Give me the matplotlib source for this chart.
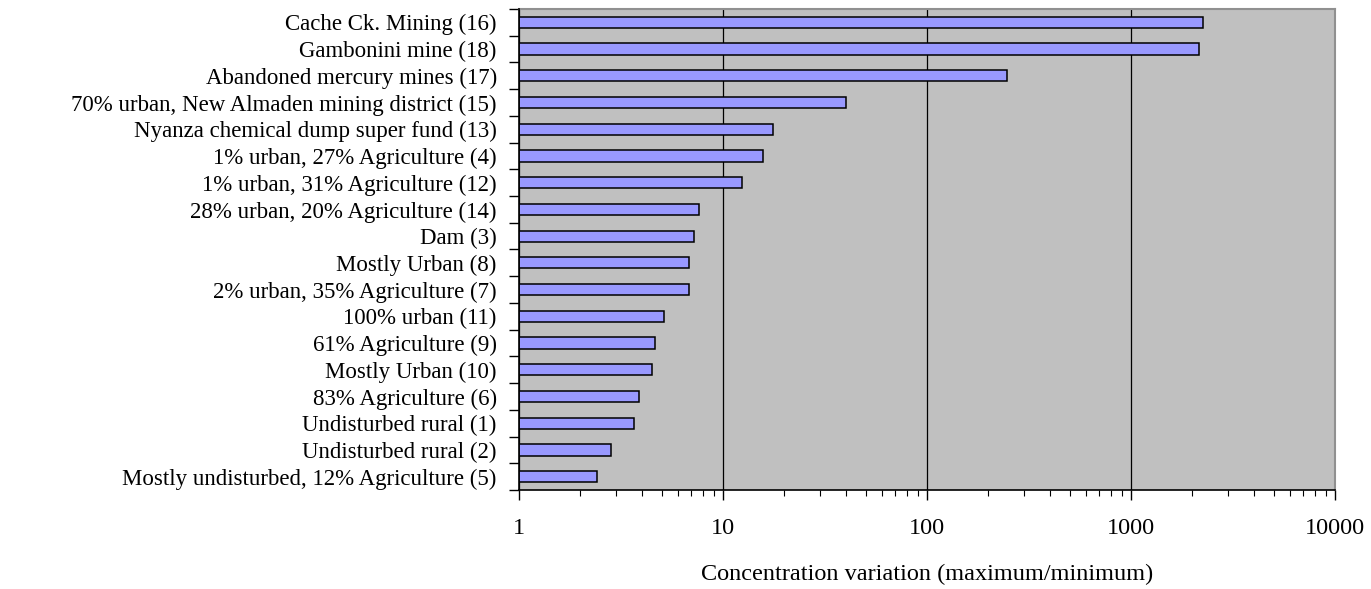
import matplotlib
matplotlib.use("Agg")
import matplotlib.pyplot as plt
from matplotlib.ticker import FixedLocator, LogLocator, NullFormatter
import numpy as np

categories = [
    "Cache Ck. Mining (16)",
    "Gambonini mine (18)",
    "Abandoned mercury mines (17)",
    "70% urban, New Almaden mining district (15)",
    "Nyanza chemical dump super fund (13)",
    "1% urban, 27% Agriculture (4)",
    "1% urban, 31% Agriculture (12)",
    "28% urban, 20% Agriculture (14)",
    "Dam (3)",
    "Mostly Urban (8)",
    "2% urban, 35% Agriculture (7)",
    "100% urban (11)",
    "61% Agriculture (9)",
    "Mostly Urban (10)",
    "83% Agriculture (6)",
    "Undisturbed rural (1)",
    "Undisturbed rural (2)",
    "Mostly undisturbed, 12% Agriculture (5)",
]
values = [2250, 2150, 248, 40.3, 17.5, 15.7, 12.4, 7.6, 7.2, 6.85, 6.85,
          5.12, 4.64, 4.51, 3.87, 3.66, 2.84, 2.41]
xtick_values = [1, 10, 100, 1000, 10000]
xtick_labels = ["1", "10", "100", "1000", "10000"]
xlabel = "Concentration variation (maximum/minimum)"

plt.rcParams['font.family'] = ['Liberation Serif', 'DejaVu Serif']

fig = plt.figure(figsize=(13.71, 5.89), dpi=100)
ax = fig.add_axes([519/1371, 1-490/589, (1335-519)/1371, (490-9)/589])
ax.set_facecolor('#C0C0C0')

n = len(categories)
y = np.arange(n)
base = xtick_values[0]
ax.barh(y, np.array(values) - base, left=base, height=0.42, color='#9999FF',
        edgecolor='black', linewidth=1.1, zorder=3)
ax.set_xscale('log')
ax.set_xlim(1, 10000)
ax.set_ylim(n - 0.5, -0.5)

ax.set_xticks(xtick_values)
ax.set_xticklabels(xtick_labels, fontsize=17.5)
ax.xaxis.set_minor_locator(LogLocator(base=10, subs=np.arange(2, 10)))
ax.xaxis.set_minor_formatter(NullFormatter())
ax.tick_params(axis='x', which='major', length=7, width=1, direction='out', pad=13)
ax.tick_params(axis='x', which='minor', length=4, width=0.8, direction='out')
ax.grid(axis='x', which='major', color='black', linewidth=0.9, zorder=1)
ax.set_axisbelow(True)

ax.set_yticks(y)
ax.set_yticklabels(categories, fontsize=16.5)
ax.tick_params(axis='y', which='major', length=0, pad=16)
ax.yaxis.set_minor_locator(FixedLocator(np.arange(-0.5, n, 1.0)))
ax.tick_params(axis='y', which='minor', length=7, width=1, direction='out')

ax.set_xlabel(xlabel, fontsize=17.5, labelpad=18)

for s in ['left', 'bottom']:
    ax.spines[s].set_color('black')
    ax.spines[s].set_linewidth(1.2)
    ax.spines[s].set_zorder(4)
for s in ['top', 'right']:
    ax.spines[s].set_color('#909090')
    ax.spines[s].set_linewidth(1.5)

fig.savefig('out.png', dpi=100)
